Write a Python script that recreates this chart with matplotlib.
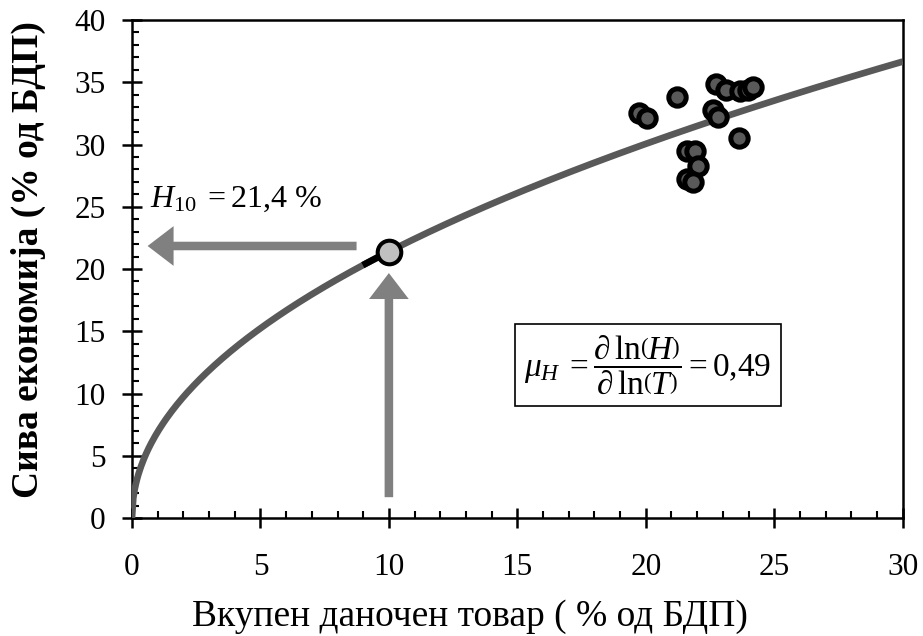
import numpy as np
import matplotlib.pyplot as plt
from matplotlib.ticker import MultipleLocator

plt.rcParams["font.family"] = ["Liberation Serif", "DejaVu Serif"]
plt.rcParams["mathtext.fontset"] = "custom"
plt.rcParams["mathtext.rm"] = "Liberation Serif"
plt.rcParams["mathtext.it"] = "Liberation Serif:italic"
plt.rcParams["mathtext.bf"] = "Liberation Serif:bold"

# observed countries: tax burden (% GDP) vs shadow economy (% GDP)
tax_burden = [19.74, 20.03, 21.22, 22.72, 23.11, 23.66, 23.97, 24.18,
              22.60, 22.81, 23.63, 21.60, 21.90, 22.04, 21.60, 21.84]
shadow_econ = [32.55, 32.1, 33.84, 34.86, 34.38, 34.3, 34.4, 34.6,
               32.8, 32.2, 30.5, 29.5, 29.5, 28.3, 27.2, 27.0]

# fitted power curve H = H10 * (T/10)^mu
H10 = 21.4
MU = 0.49
T_REF = 10

GREY_LINE = "#595959"
GREY_ARROW = "#808080"

fig = plt.figure(figsize=(9.23, 6.36), dpi=100)
ax = fig.add_axes([0.143, 0.1855, 0.835, 0.783])

t = np.linspace(0, 30, 600)
ax.plot(t, H10 * (t / T_REF) ** MU, color=GREY_LINE, lw=4.8, zorder=3,
        solid_capstyle="butt")
tb = np.linspace(9.1, T_REF, 20)
ax.plot(tb, H10 * (tb / T_REF) ** MU, color="black", lw=4.8, zorder=3)

ax.plot(tax_burden, shadow_econ, "o", ms=12.5, mfc=GREY_LINE, mec="black",
        mew=3.6, zorder=4)

# arrows to the reference point
arrow = dict(arrowstyle="simple,head_length=0.85,head_width=1.3,tail_width=0.28",
             fc=GREY_ARROW, ec="none", mutation_scale=22)
ax.annotate("", xy=(0.5, 21.85), xytext=(8.85, 21.85), arrowprops=arrow, zorder=2)
ax.annotate("", xy=(T_REF, 19.9), xytext=(T_REF, 1.45), arrowprops=arrow, zorder=2)

ax.plot([T_REF], [H10], "o", ms=17, mfc="#c0c0c0", mec="black", mew=2.9, zorder=5)

ax.text(0.7, 25.6, r"$H_{10}\; = 21{,}4\ \%$", fontsize=23, ha="left", va="center")
ax.text(20.08, 12.3,
        r"$\mu_H\; = \dfrac{\partial\,\ln\!\left(H\right)}{\partial\,\ln\!\left(T\right)} = 0{,}49$",
        fontsize=24, ha="center", va="center",
        bbox=dict(boxstyle="square,pad=0.28", fc="white", ec="black", lw=1.2))

ax.set_xlim(0, 30)
ax.set_ylim(0, 40)
ax.xaxis.set_major_locator(MultipleLocator(5))
ax.xaxis.set_minor_locator(MultipleLocator(1))
ax.yaxis.set_major_locator(MultipleLocator(5))
ax.yaxis.set_minor_locator(MultipleLocator(1))
ax.tick_params(which="major", direction="inout", length=14, width=1.8,
               labelsize=22.5)
ax.tick_params(which="minor", direction="in", length=5, width=1.5)
ax.tick_params(axis="x", which="major", pad=18)
ax.tick_params(axis="y", which="major", pad=12)
for side in ["left", "bottom", "top", "right"]:
    ax.spines[side].set_linewidth(1.8)

ax.set_xlabel("Вкупен даночен товар ( % од БДП)", fontsize=27)
ax.xaxis.set_label_coords(0.438, -0.163)
ax.set_ylabel("Сива економија (% од БДП)", fontsize=27, fontweight="bold")
ax.yaxis.set_label_coords(-0.112, 0.52)

fig.savefig("out.png", dpi=100)
